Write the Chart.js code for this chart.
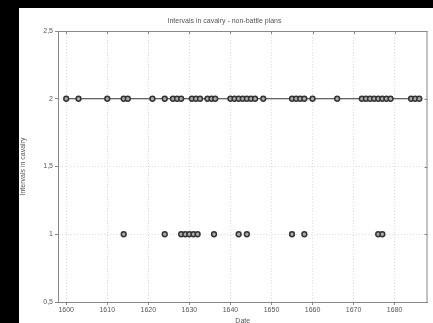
<!DOCTYPE html>
<html>
<head>
<meta charset="utf-8">
<script src="https://cdn.jsdelivr.net/npm/chart.js@4/dist/chart.umd.min.js"></script>
<style>
  html, body { margin: 0; padding: 0; background: #000; width: 433px; height: 323px; overflow: hidden; }
  #wrap { position: absolute; left: 19px; top: 8px; width: 414px; height: 315px; background: #fff; }
</style>
</head>
<body>
<div id="wrap"><canvas id="chart" width="414" height="315"></canvas></div>
<script>
// Données
const yearsTwo = [1600, 1603, 1610, 1614, 1615, 1621, 1624, 1626, 1627, 1628,
  1630.6, 1631.6, 1632.6, 1634.4, 1635.4, 1636.3,
  1640, 1641, 1642, 1643, 1644, 1645, 1646, 1648,
  1655, 1656, 1657, 1658, 1660, 1666,
  1672, 1673, 1674, 1675, 1676, 1677, 1678, 1679,
  1684, 1685, 1686];
const valuesTwo = yearsTwo.map(() => 2);
const yearsOne = [1614, 1624, 1628, 1629, 1630, 1631, 1632, 1636, 1642, 1644, 1655, 1658, 1676, 1677];
const valuesOne = yearsOne.map(() => 1);
const xTicks = [1600, 1610, 1620, 1630, 1640, 1650, 1660, 1670, 1680];
const yTicks = [0.5, 1, 1.5, 2, 2.5];

const fontTxt = { family: "'Liberation Sans', Arial, sans-serif", size: 7 };
const grey = "#555";

// Cadre + petites graduations en miroir
const framePlugin = {
  id: "frame",
  afterDatasetsDraw(chart) {
    const { ctx, chartArea: a, scales } = chart;
    ctx.save();
    ctx.strokeStyle = "#888";
    ctx.lineWidth = 1;
    ctx.strokeRect(a.left + 0.5, a.top + 0.5, a.right - a.left - 1, a.bottom - a.top);
    ctx.beginPath();
    xTicks.forEach((v) => {
      const x = Math.round(scales.x.getPixelForValue(v)) + 0.5;
      ctx.moveTo(x, a.top);
      ctx.lineTo(x, a.top + 3);
    });
    yTicks.forEach((v) => {
      const y = Math.round(scales.y.getPixelForValue(v)) + 0.5;
      ctx.moveTo(a.right, y);
      ctx.lineTo(a.right - 3, y);
    });
    ctx.stroke();
    ctx.restore();
  },
};

new Chart(document.getElementById("chart").getContext("2d"), {
  type: "scatter",
  data: {
    datasets: [
      {
        label: "2",
        data: yearsTwo.map((x, i) => ({ x, y: valuesTwo[i] })),
        showLine: true,
        borderColor: "#333",
        borderWidth: 1.2,
        pointRadius: 2.4,
        pointBorderWidth: 1.5,
        pointBorderColor: "#333",
        pointBackgroundColor: "#aaa",
      },
      {
        label: "1",
        data: yearsOne.map((x, i) => ({ x, y: valuesOne[i] })),
        showLine: false,
        pointRadius: 2.4,
        pointBorderWidth: 1.5,
        pointBorderColor: "#333",
        pointBackgroundColor: "#aaa",
      },
    ],
  },
  options: {
    responsive: false,
    animation: false,
    layout: { padding: { left: 0, right: 3, top: 0, bottom: 0 } },
    plugins: {
      legend: { display: false },
      tooltip: { enabled: false },
      title: {
        display: true,
        text: "Intervals in cavalry - non-battle plans",
        color: grey,
        font: { ...fontTxt, weight: "normal" },
        padding: { top: 9, bottom: 5.6 },
      },
    },
    scales: {
      x: {
        type: "linear",
        min: 1598,
        max: 1688,
        afterBuildTicks: (s) => { s.ticks = xTicks.map((v) => ({ value: v })); },
        afterFit: (s) => { s.height = 21; },
        ticks: { color: grey, font: fontTxt, padding: 1, maxRotation: 0, callback: (v) => String(v) },
        grid: { color: "#ddd", tickColor: "#888", tickLength: 3 },
        border: { display: true, color: "#888", dash: [1, 2] },
        title: { display: true, text: "Date", color: grey, font: fontTxt, padding: { top: 0, bottom: -2 } },
      },
      y: {
        min: 0.5,
        max: 2.5,
        afterBuildTicks: (s) => { s.ticks = yTicks.map((v) => ({ value: v })); },
        afterFit: (s) => { s.width = 39; },
        ticks: { color: grey, font: fontTxt, padding: 2, callback: (v) => String(v).replace(".", ",") },
        grid: { color: "#ddd", tickColor: "#888", tickLength: 3 },
        border: { display: true, color: "#888", dash: [1, 2] },
        title: { display: true, text: "Intervals in cavalry", color: grey, font: fontTxt, padding: 0 },
      },
    },
  },
  plugins: [framePlugin],
});
</script>
</body>
</html>
